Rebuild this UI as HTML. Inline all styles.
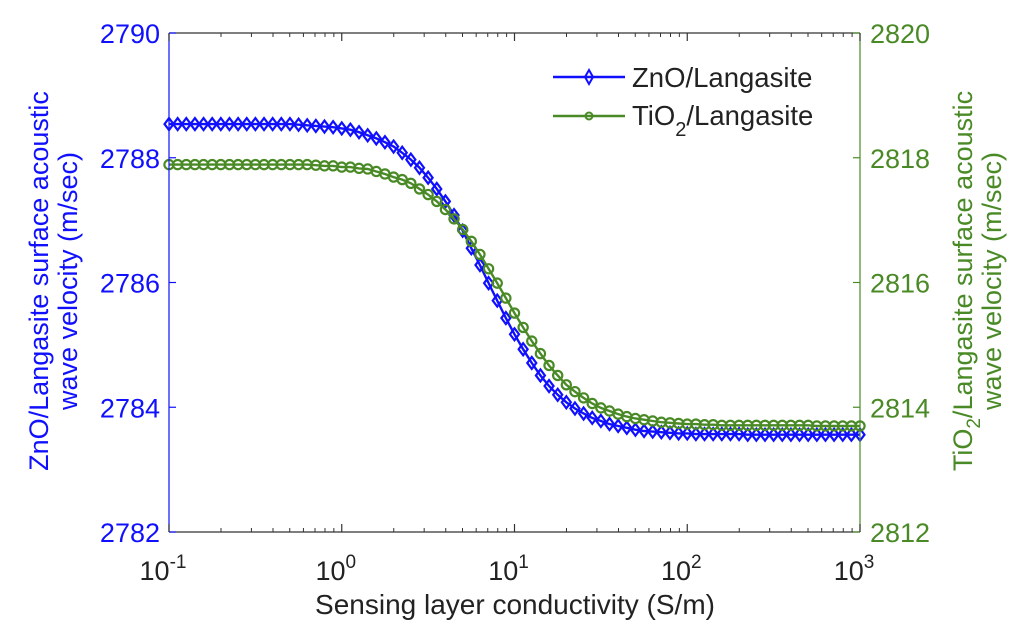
<!DOCTYPE html>
<html><head><meta charset="utf-8"><style>
html,body{margin:0;padding:0;background:#fff;}
svg{display:block;font-family:"Liberation Sans",Arial,sans-serif;}
</style></head><body>
<svg id="chart" width="1024" height="642" viewBox="0 0 1024 642">
<g id="series"></g>
<g id="axes"></g>
<g id="legend">
  <line x1="553" y1="77" x2="625" y2="77" stroke="#1010ff" stroke-width="2.5"/>
  <path d="M589 70 L593 77 L589 84 L585 77 Z" fill="none" stroke="#1010ff" stroke-width="2"/>
  <text x="632" y="87" font-size="27.5" fill="#222">ZnO/Langasite</text>
  <line x1="553" y1="116" x2="625" y2="116" stroke="#4a8a26" stroke-width="2.5"/>
  <circle cx="589" cy="116" r="3.5" fill="none" stroke="#4a8a26" stroke-width="2"/>
  <text x="632" y="125" font-size="27.5" fill="#222">TiO<tspan font-size="20" dy="11">2</tspan><tspan dy="-11">/Langasite</tspan></text>
</g>
</svg>
<script>
const logX = [];
for (let k = 0; k <= 80; k++) logX.push(-1 + k * 0.05);
const znoValues = [2788.54,2788.54,2788.54,2788.54,2788.54,2788.54,2788.54,2788.54,2788.54,2788.54,2788.54,2788.54,2788.54,2788.54,2788.54,
2788.53,2788.52,2788.51,2788.50,2788.49,2788.47,2788.45,2788.41,2788.36,2788.31,2788.25,2788.18,2788.08,2787.97,2787.84,
2787.68,2787.50,2787.30,2787.08,2786.83,2786.55,2786.28,2785.99,2785.71,2785.43,2785.17,2784.93,2784.71,2784.51,2784.34,
2784.20,2784.08,2783.98,2783.90,2783.83,2783.78,2783.73,2783.70,2783.67,2783.64,2783.62,2783.61,2783.60,2783.59,2783.58,
2783.58,2783.57,2783.57,2783.57,2783.57,2783.57,2783.57,2783.56,2783.56,2783.56,2783.56,2783.56,2783.56,2783.56,2783.56,
2783.56,2783.56,2783.56,2783.56,2783.56,2783.56];
const tio2Values = [2817.89,2817.89,2817.89,2817.89,2817.89,2817.89,2817.89,2817.89,2817.89,2817.89,2817.89,2817.89,2817.89,2817.89,2817.89,
2817.89,2817.89,2817.88,2817.87,2817.87,2817.85,2817.85,2817.83,2817.82,2817.78,2817.74,2817.69,2817.65,2817.59,2817.50,
2817.41,2817.30,2817.17,2817.02,2816.85,2816.66,2816.45,2816.22,2815.99,2815.75,2815.51,2815.28,2815.06,2814.86,2814.67,
2814.51,2814.36,2814.25,2814.15,2814.06,2813.99,2813.94,2813.89,2813.85,2813.82,2813.80,2813.78,2813.76,2813.75,2813.74,
2813.73,2813.73,2813.72,2813.72,2813.71,2813.71,2813.71,2813.71,2813.71,2813.71,2813.71,2813.71,2813.71,2813.71,2813.71,
2813.70,2813.70,2813.70,2813.70,2813.70,2813.70];
const leftTicks = [2782,2784,2786,2788,2790];
const rightTicks = [2812,2814,2816,2818,2820];
const xTickExps = [-1,0,1,2,3];

const NS = "http://www.w3.org/2000/svg";
const L = 169, R = 860, T = 33, B = 532;
const BLUE = "#1010ff", GREEN = "#4a8a26";
function xs(l){ return L + (l + 1) / 4 * (R - L); }
function yl(v){ return B - (v - 2782) / 8 * (B - T); }
function yr(v){ return B - (v - 2812) / 8 * (B - T); }
function mk(tag, attrs, parent){ const e = document.createElementNS(NS, tag); for (const k in attrs) e.setAttribute(k, attrs[k]); parent.appendChild(e); return e; }

const series = document.getElementById('series');
const axes = document.getElementById('axes');

let d = logX.map((l,i)=>(i?'L':'M')+xs(l).toFixed(1)+' '+yl(znoValues[i]).toFixed(1)).join(' ');
const zl = mk('path',{d:d,fill:'none',stroke:BLUE,'stroke-width':2.4},series);


logX.forEach((l,i)=>{
  const x = xs(l), y = yl(znoValues[i]);
  const m = mk('path',{d:`M${x} ${y-6} L${x+4.5} ${y} L${x} ${y+6} L${x-4.5} ${y} Z`,fill:'none',stroke:BLUE,'stroke-width':2.2},series);
  
  
});
d = logX.map((l,i)=>(i?'L':'M')+xs(l).toFixed(1)+' '+yr(tio2Values[i]).toFixed(1)).join(' ');
const tl = mk('path',{d:d,fill:'none',stroke:GREEN,'stroke-width':2.4},series);


logX.forEach((l,i)=>{
  const c = mk('circle',{cx:xs(l),cy:yr(tio2Values[i]),r:4.6,fill:'none',stroke:GREEN,'stroke-width':2.2},series);
  
  
});

mk('line',{x1:L,y1:T,x2:R,y2:T,stroke:'#333','stroke-width':1.2},axes);
mk('line',{x1:L,y1:B,x2:R,y2:B,stroke:'#333','stroke-width':1.2},axes);
mk('line',{x1:L,y1:T,x2:L,y2:B,stroke:BLUE,'stroke-width':1.2},axes);
mk('line',{x1:R,y1:T,x2:R,y2:B,stroke:GREEN,'stroke-width':1.2},axes);

leftTicks.forEach(v=>{
  const y = yl(v);
  mk('line',{x1:L,y1:y,x2:L+7,y2:y,stroke:BLUE,'stroke-width':1.2},axes);
  const t = mk('text',{x:L-9,y:y+10,'text-anchor':'end','font-size':27,fill:BLUE},axes);
  t.textContent = v;
  
  
});
rightTicks.forEach(v=>{
  const y = yr(v);
  mk('line',{x1:R-7,y1:y,x2:R,y2:y,stroke:GREEN,'stroke-width':1.2},axes);
  const t = mk('text',{x:R+10,y:y+10,'font-size':27,fill:GREEN},axes);
  t.textContent = v;
  
  
});
xTickExps.forEach(e=>{
  const x = xs(e);
  mk('line',{x1:x,y1:B,x2:x,y2:B-8,stroke:'#333','stroke-width':1.2},axes);
  mk('line',{x1:x,y1:T,x2:x,y2:T+8,stroke:'#333','stroke-width':1.2},axes);
  if (e < 3) for (let m = 2; m <= 9; m++){
    const xm = xs(e + Math.log10(m));
    mk('line',{x1:xm,y1:B,x2:xm,y2:B-4,stroke:'#333','stroke-width':1},axes);
    mk('line',{x1:xm,y1:T,x2:xm,y2:T+4,stroke:'#333','stroke-width':1},axes);
  }
  const t = mk('text',{x:x-6,y:B+48,'text-anchor':'middle','font-size':27,fill:'#222'},axes);
  t.innerHTML = '10<tspan font-size="19" dy="-12">'+e+'</tspan>';
  
  
});

let t = mk('text',{x:515,y:614,'text-anchor':'middle','font-size':28,fill:'#222'},axes);
t.textContent = 'Sensing layer conductivity (S/m)';



t = mk('text',{transform:'translate(48,281) rotate(-90)','text-anchor':'middle','font-size':27,fill:BLUE},axes);
t.innerHTML = '<tspan x="0" y="0">ZnO/Langasite surface acoustic</tspan><tspan x="0" y="29">wave velocity (m/sec)</tspan>';



t = mk('text',{transform:'translate(972,281) rotate(-90)','text-anchor':'middle','font-size':27,fill:GREEN},axes);
t.innerHTML = '<tspan x="0" y="0">TiO<tspan font-size="19" dy="8">2</tspan><tspan dy="-8">/Langasite surface acoustic</tspan></tspan><tspan x="0" y="29">wave velocity (m/sec)</tspan>';


</script>
</body></html>
